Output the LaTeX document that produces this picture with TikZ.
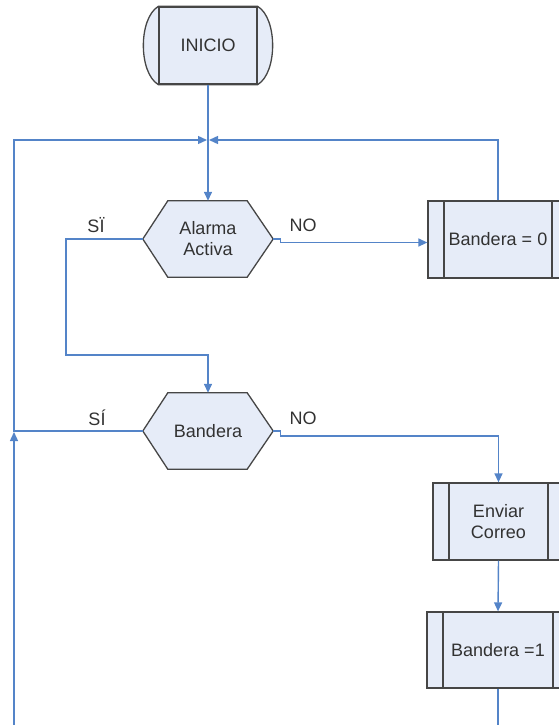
\documentclass[tikz,border=0pt]{standalone}
\usepackage{fontspec}
\setmainfont{Liberation Sans}
\usetikzlibrary{arrows.meta,calc,backgrounds}
\definecolor{fillc}{RGB}{230,236,248}
\definecolor{linec}{RGB}{84,132,200}
\definecolor{edgec}{RGB}{70,70,70}
\definecolor{txtc}{RGB}{50,50,50}
\tikzset{
  txt/.style={text=txtc, font=\fontsize{18}{21}\selectfont},
  hexbox/.style={txt, minimum width=130pt, minimum height=76pt, inner sep=0pt, align=center},
  procbox/.style={txt, draw=edgec, fill=fillc, line width=1.3pt, inner sep=0pt, align=center,
    path picture={\draw[edgec,line width=1.3pt]
      ([xshift=16pt]path picture bounding box.north west) -- ([xshift=16pt]path picture bounding box.south west)
      ([xshift=-16pt]path picture bounding box.north east) -- ([xshift=-16pt]path picture bounding box.south east);}},
  shapeline/.style={draw=edgec, fill=fillc, line width=1.3pt},
  conn/.style={draw=linec, line width=1.4pt},
  arr/.style={conn, -{Triangle[length=9pt,width=8pt]}},
  lbl/.style={txt, inner sep=0pt}
}
\newcommand\hexshape[1]{%
  \path[shapeline] (#1.west) -- ($(#1.north west)+(25,0)$) -- ($(#1.north east)+(-26,0)$)
    -- (#1.east) -- ($(#1.south east)+(-26,0)$) -- ($(#1.south west)+(25,0)$) -- cycle;}
\begin{document}
\begin{tikzpicture}[x=1pt,y=-1pt]
\useasboundingbox (0,0) rectangle (559,725);
% terminal
\node[txt, draw=edgec, fill=fillc, line width=1.3pt, minimum width=98pt, minimum height=77pt, inner sep=0pt] (inicio) at (208,45.5) {INICIO};
\begin{scope}[on background layer]
  \path[shapeline] (inicio.north west) .. controls ($(inicio.north west)+(-20,12)$) and ($(inicio.south west)+(-20,-12)$) .. (inicio.south west)
    -- (inicio.south east) .. controls ($(inicio.south east)+(20,-12)$) and ($(inicio.north east)+(20,12)$) .. (inicio.north east) -- cycle;
\end{scope}
% decisions
\node[hexbox] (alarma) at (208,239) {Alarma\\Activa};
\node[hexbox] (bandera) at (208,431) {Bandera};
\begin{scope}[on background layer]
  \hexshape{alarma}
  \hexshape{bandera}
\end{scope}
% processes
\node[procbox, minimum width=140pt, minimum height=77pt] (b0) at (498,239.5) {Bandera = 0};
\node[procbox, minimum width=131pt, minimum height=77pt] (enviar) at (498.5,521.5) {Enviar\\Correo};
\node[procbox, minimum width=142pt, minimum height=76pt] (b1) at (498,650) {Bandera =1};
% coordinates
\coordinate (j1) at (208,140);
\coordinate (bl) at (14,725);
\coordinate (br) at (498,725);
% connectors
\draw[arr] (inicio.south) -- (alarma.north);
\draw[arr] (b0.north) |- ([xshift=1pt]j1);
\draw[arr] (alarma.west) -- (66,239) -- (66,355) -| (bandera.north);
\draw[arr] (alarma.east) -- ++(7,0) -- ++(0,3.5) -- ($(b0.west)+(0,3)$);
\draw[arr] (bandera.west) -- (14,431) -- (14,140) -- ([xshift=-1pt]j1);
\draw[arr] (bandera.east) -- ++(7,0) -- ++(0,5) -| (enviar.north);
\draw[arr] (bl) -- (14,432);
\draw[arr] (enviar.south) -- (b1.north);
\draw[conn] (b1.south) -- (br);
% labels
\node[lbl] (l1) at (96,225) {SÏ};
\node[lbl] (l2) at (303,225) {NO};
\node[lbl] (l3) at (97,418) {SÍ};
\node[lbl] (l4) at (303,418) {NO};
\end{tikzpicture}
\end{document}
